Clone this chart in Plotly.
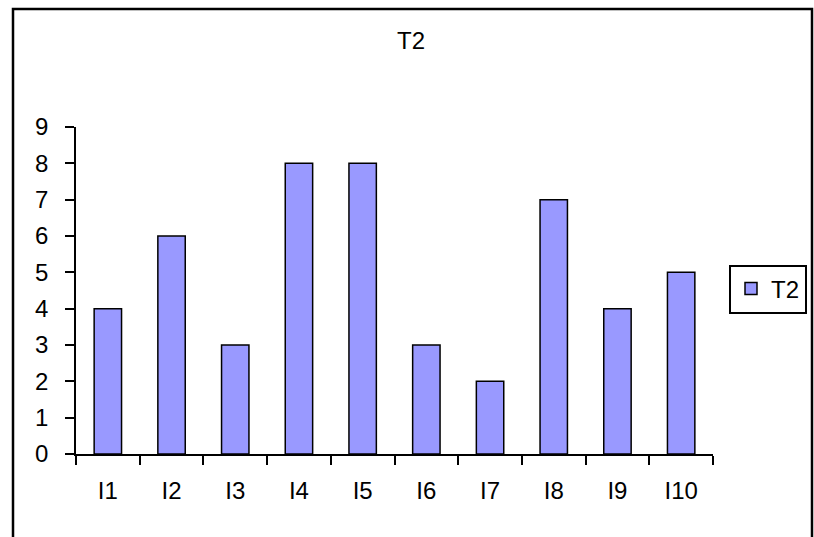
import plotly.graph_objects as go

# Data
categories = ["I1", "I2", "I3", "I4", "I5", "I6", "I7", "I8", "I9", "I10"]
t2_values = [4, 6, 3, 8, 8, 3, 2, 7, 4, 5]
y_ticks = list(range(0, 10))

W, H = 814, 537
L, R, T, B = 76, 101, 127, 83
pw = W - L - R
ph = H - T - B


def px_to_paper_x(px):
    return (px - L) / pw


def px_to_paper_y(py):
    return (H - B - py) / ph


fig = go.Figure()
fig.add_trace(go.Bar(
    x=categories,
    y=t2_values,
    name="T2",
    marker=dict(color="#9999FF", line=dict(color="black", width=1.5)),
))

font_family = "Liberation Sans, Arial, sans-serif"
FS = 24

fig.update_layout(
    width=W, height=H,
    margin=dict(l=L, r=R, t=T, b=B, autoexpand=False),
    paper_bgcolor="white",
    plot_bgcolor="white",
    font=dict(family=font_family, size=FS, color="black"),
    bargap=0.57,
    showlegend=True,
    title=dict(
        text="T2",
        x=px_to_paper_x(411), xref="paper", xanchor="center",
        y=1 - 41 / H, yref="container", yanchor="middle",
        font=dict(family=font_family, size=FS, color="black"),
    ),
    legend=dict(
        x=px_to_paper_x(729), xanchor="left",
        y=px_to_paper_y(289), yanchor="middle",
        bordercolor="black", borderwidth=2,
        font=dict(family=font_family, size=FS, color="black"),
        itemwidth=30,
    ),
    xaxis=dict(
        showgrid=False,
        showline=True, linecolor="black", linewidth=1.5,
        ticks="outside", ticklen=9, tickwidth=1.5, tickcolor="black",
        tickson="boundaries",
        ticklabelstandoff=14,
        range=[-0.5, 9.5],
    ),
    yaxis=dict(
        range=[0, 9],
        tickvals=y_ticks,
        showgrid=False,
        showline=True, linecolor="black", linewidth=1.5,
        ticks="outside", ticklen=9, tickwidth=1.5, tickcolor="black",
        ticklabelstandoff=12,
        zeroline=False,
    ),
    shapes=[
        dict(
            type="rect", xref="paper", yref="paper",
            x0=px_to_paper_x(13), x1=px_to_paper_x(812),
            y0=px_to_paper_y(560), y1=px_to_paper_y(9),
            line=dict(color="black", width=2.5),
            fillcolor="rgba(0,0,0,0)",
            layer="below",
        )
    ],
)

fig.write_html("out.html")
